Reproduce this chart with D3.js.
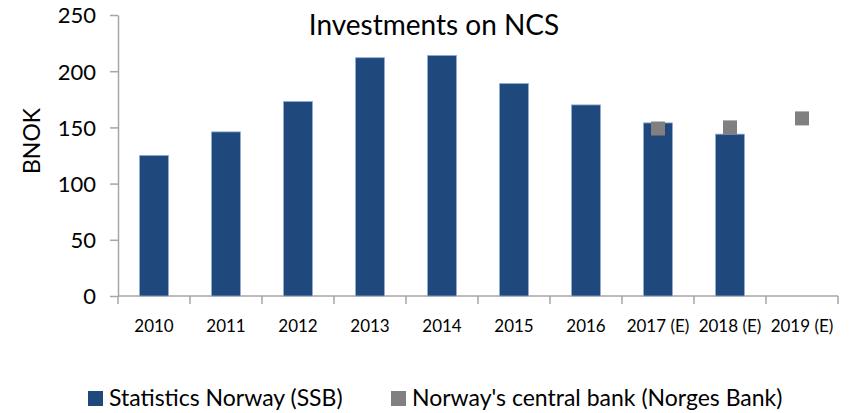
<!DOCTYPE html>
<html>
<head>
<meta charset="utf-8">
<script src="https://cdn.jsdelivr.net/npm/d3@7"></script>
<style>
  body { margin: 0; background: #fff; }
  svg text { font-family: Lato, "Open Sans", sans-serif; fill: #000; }
</style>
</head>
<body>
<div id="chart"></div>
<script>
var years = ["2010", "2011", "2012", "2013", "2014", "2015", "2016", "2017 (E)", "2018 (E)", "2019 (E)"];
var ssbValues = [125, 146, 173, 212, 214, 189, 170, 154, 144, null];
var norgesBankValues = [null, null, null, null, null, null, null, 149, 150, 158];
var yTicks = [0, 50, 100, 150, 200, 250];
var seriesNames = ["Statistics Norway (SSB)", "Norway's central bank (Norges Bank)"];

var width = 854, height = 413;
var plotLeft = 118, plotRight = 838, plotTop = 15, plotBottom = 296;

var svg = d3.select("#chart")
    .append("svg")
    .attr("width", width)
    .attr("height", height);

var x = d3.scaleBand()
    .domain(years)
    .range([plotLeft, plotRight])
    .paddingInner(0.6)
    .paddingOuter(0.3);

var y = d3.scaleLinear()
    .domain([0, 250])
    .range([plotBottom, plotTop]);

// y axis
var yAxis = svg.append("g")
    .attr("transform", "translate(" + plotLeft + ",0)")
    .call(d3.axisLeft(y).tickValues(yTicks).tickSize(8).tickPadding(14).tickSizeOuter(0));
yAxis.select(".domain").attr("stroke", "#a6a6a6").attr("stroke-width", 1.5);
yAxis.selectAll(".tick line").attr("stroke", "#a6a6a6").attr("stroke-width", 1.5);
yAxis.selectAll(".tick text").style("font-size", "22px").attr("dy", "0.36em");

// x axis: ticks between the categories
var band = (plotRight - plotLeft) / years.length;
var xAxis = svg.append("g");
xAxis.append("line")
    .attr("x1", plotLeft).attr("x2", plotRight)
    .attr("y1", plotBottom).attr("y2", plotBottom)
    .attr("stroke", "#a6a6a6").attr("stroke-width", 1.5);
xAxis.selectAll("line.sep")
    .data(d3.range(years.length + 1))
    .enter()
    .append("line")
    .attr("class", "sep")
    .attr("x1", function (d) { return plotLeft + d * band; })
    .attr("x2", function (d) { return plotLeft + d * band; })
    .attr("y1", plotBottom).attr("y2", plotBottom + 8)
    .attr("stroke", "#a6a6a6").attr("stroke-width", 1.5);
xAxis.selectAll("text")
    .data(years)
    .enter()
    .append("text")
    .attr("x", function (d) { return x(d) + x.bandwidth() / 2; })
    .attr("y", 332)
    .attr("text-anchor", "middle")
    .style("font-size", "17px")
    .text(function (d) { return d; });

// bars
svg.append("g")
    .selectAll("rect")
    .data(years.filter(function (d, i) { return ssbValues[i] != null; }))
    .enter()
    .append("rect")
    .attr("x", function (d) { return x(d); })
    .attr("y", function (d) { return y(ssbValues[years.indexOf(d)]); })
    .attr("width", x.bandwidth())
    .attr("height", function (d) { return plotBottom - y(ssbValues[years.indexOf(d)]); })
    .attr("fill", "#1f497d")
    .attr("stroke", "#8eaad0")
    .attr("stroke-width", 0.8);

// norges bank markers
var mk = 14;
svg.append("g")
    .selectAll("rect")
    .data(years.filter(function (d, i) { return norgesBankValues[i] != null; }))
    .enter()
    .append("rect")
    .attr("x", function (d) { return x(d) + x.bandwidth() / 2 - mk / 2; })
    .attr("y", function (d) { return y(norgesBankValues[years.indexOf(d)]) - mk / 2; })
    .attr("width", mk)
    .attr("height", mk)
    .attr("fill", "#808080");

// title
svg.append("text")
    .attr("x", 434).attr("y", 35)
    .attr("text-anchor", "middle")
    .style("font-size", "28px")
    .text("Investments on NCS");

// y label
svg.append("text")
    .attr("transform", "translate(40,141) rotate(-90)")
    .attr("text-anchor", "middle")
    .style("font-size", "23px")
    .text("BNOK");

// legend
var legendX = [88, 391];
var legendColors = ["#1f497d", "#808080"];
var legend = svg.append("g")
    .selectAll("g")
    .data(seriesNames)
    .enter()
    .append("g")
    .attr("transform", function (d, i) { return "translate(" + legendX[i] + ",391)"; });
legend.append("rect")
    .attr("width", 15).attr("height", 15)
    .attr("fill", function (d, i) { return legendColors[i]; });
legend.append("text")
    .attr("x", 21).attr("y", 15)
    .style("font-size", "23px")
    .text(function (d) { return d; });
</script>
</body>
</html>
